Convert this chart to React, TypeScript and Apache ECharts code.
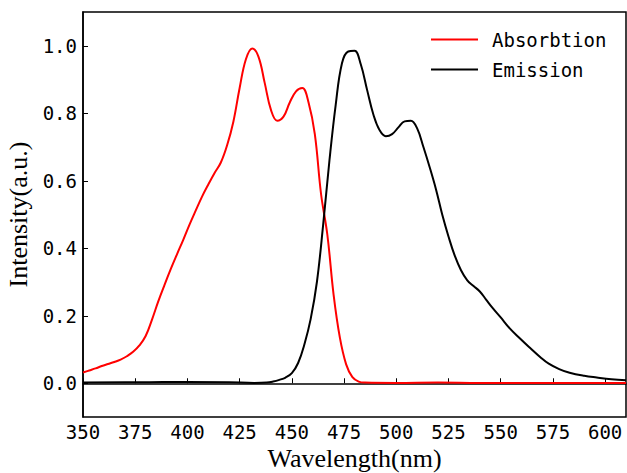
import React, { useEffect, useRef } from "react";
import * as echarts from "echarts";

const absWavelength = [350, 353, 356, 359, 362, 365, 368, 371, 374, 377, 380, 383, 386, 389, 392, 395, 398, 401, 404, 407, 410, 413, 416, 419, 422, 425, 428, 431, 434, 437, 440, 443, 446, 449, 452, 455, 458, 461, 464, 467, 470, 473, 476, 479, 482, 485, 500, 520, 540, 560, 580, 610];
const absIntensity = [0.032, 0.038, 0.044, 0.051, 0.057, 0.063, 0.07, 0.08, 0.093, 0.112, 0.14, 0.188, 0.242, 0.291, 0.338, 0.382, 0.425, 0.47, 0.512, 0.553, 0.589, 0.623, 0.654, 0.705, 0.775, 0.875, 0.96, 0.992, 0.968, 0.89, 0.81, 0.778, 0.79, 0.832, 0.865, 0.875, 0.832, 0.738, 0.56, 0.44, 0.262, 0.135, 0.056, 0.018, 0.005, 0.002, 0.001, 0.002, 0.001, 0.001, 0.001, 0.001];

const emWavelength = [350, 380, 400, 420, 432, 438, 441, 444, 447, 450, 453, 456, 459, 462, 465, 468, 471, 474, 477, 480, 483, 486, 489, 492, 495, 498, 501, 504, 507, 510, 513, 516, 519, 522, 525, 528, 531, 534, 537, 540, 543, 546, 550, 554, 559, 564, 569, 573, 578, 583, 590, 596, 603, 610];
const emIntensity = [0.002, 0.003, 0.004, 0.003, 0.001, 0.002, 0.005, 0.01, 0.017, 0.03, 0.06, 0.115, 0.19, 0.3, 0.47, 0.66, 0.825, 0.948, 0.983, 0.985, 0.945, 0.87, 0.797, 0.75, 0.732, 0.738, 0.758, 0.776, 0.778, 0.755, 0.7, 0.64, 0.575, 0.5, 0.435, 0.378, 0.335, 0.305, 0.288, 0.272, 0.248, 0.224, 0.195, 0.165, 0.134, 0.105, 0.077, 0.058, 0.042, 0.031, 0.022, 0.017, 0.012, 0.009];

const seriesNames = ["Absorbtion", "Emission"];
const seriesColors = ["#ff0000", "#000000"];

const mono = "DejaVu Sans Mono";
const serif = "Liberation Serif";

export default function App() {
  const ref = useRef<HTMLDivElement>(null);
  useEffect(() => {
    if (!ref.current) return;
    const chart = echarts.init(ref.current, null, { renderer: "svg" });
    const absData = absWavelength.map((w, i) => [w, absIntensity[i]]);
    const emData = emWavelength.map((w, i) => [w, emIntensity[i]]);
    chart.setOption({
      animation: false,
      backgroundColor: "#ffffff",
      grid: {
        left: 83,
        right: 1,
        top: 12,
        bottom: 56,
        outerBoundsMode: "none",
        containLabel: false,
        show: true,
        borderColor: "#000",
        borderWidth: 1.5,
        backgroundColor: "transparent",
      },
      legend: {
        orient: "vertical",
        left: 426,
        top: 25,
        itemWidth: 47,
        itemHeight: 2,
        itemGap: 11,
        icon: "rect",
        data: seriesNames,
        textStyle: {
          fontFamily: mono,
          fontSize: 19,
          color: "#000",
          padding: [0, 0, 0, 9],
        },
      },
      xAxis: {
        type: "value",
        min: 350,
        max: 610,
        interval: 25,
        name: "Wavelength(nm)",
        nameLocation: "middle",
        nameGap: 18,
        nameTextStyle: { fontFamily: serif, fontSize: 26, color: "#000" },
        axisLine: { lineStyle: { color: "#000", width: 1.5 } },
        axisTick: { inside: true, length: 5, lineStyle: { color: "#000" } },
        axisLabel: {
          showMaxLabel: false,
          fontFamily: mono,
          fontSize: 19,
          color: "#000",
          margin: 5,
        },
        splitLine: { show: false },
      },
      yAxis: {
        type: "value",
        min: -0.1,
        max: 1.1,
        splitNumber: 6,
        minInterval: 0.2,
        maxInterval: 0.2,
        name: "Intensity(a.u.)",
        nameLocation: "middle",
        nameGap: 47,
        nameTextStyle: { fontFamily: serif, fontSize: 26, color: "#000" },
        axisLine: { lineStyle: { color: "#000", width: 1.5 } },
        axisTick: { inside: true, length: 5, lineStyle: { color: "#000" } },
        axisLabel: {
          showMinLabel: false,
          showMaxLabel: false,
          fontFamily: mono,
          fontSize: 19,
          color: "#000",
          margin: 6,
          formatter: (v: number) => v.toFixed(1),
        },
        splitLine: { show: false },
      },
      series: [
        {
          name: seriesNames[0],
          type: "line",
          data: absData,
          showSymbol: false,
          smooth: 0.4,
          color: seriesColors[0],
          lineStyle: { color: seriesColors[0], width: 2 },
        },
        {
          name: seriesNames[1],
          type: "line",
          data: emData,
          showSymbol: false,
          smooth: 0.4,
          color: seriesColors[1],
          lineStyle: { color: seriesColors[1], width: 2 },
        },
      ],
    });
    return () => chart.dispose();
  }, []);
  return (
    <div
      ref={ref}
      style={{ position: "fixed", left: 0, top: 0, width: 627, height: 473 }}
    />
  );
}
